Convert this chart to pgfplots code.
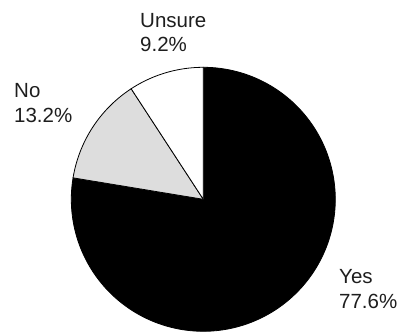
\documentclass[border=0pt]{standalone}
\usepackage{pgfplots}
\pgfplotsset{compat=1.18}
\usepackage{fontspec}
\setmainfont{Liberation Sans}
\definecolor{nogray}{RGB}{221,221,221}
\definecolor{txt}{RGB}{30,30,30}
% shares (percent)
\def\vYes{77.6}
\def\vNo{13.2}
\def\vUnsure{9.2}
\begin{document}
\begin{tikzpicture}
\pgfmathsetmacro{\aA}{90}
\pgfmathsetmacro{\aB}{\aA-3.6*\vYes}
\pgfmathsetmacro{\aC}{\aB-3.6*\vNo}
\pgfmathsetmacro{\aD}{\aC-3.6*\vUnsure}
\begin{axis}[
  scale only axis, width=400pt, height=333pt,
  xmin=0, xmax=400, ymin=0, ymax=333,
  hide axis, clip=false,
]
\path (axis cs:0,0) rectangle (axis cs:400,333);
\addplot[fill=black, draw=black, line width=0.8pt, domain=\aB:\aA, samples=200, variable=\t]
  ({203.3+132*cos(t)},{133.7+132*sin(t)}) -- (axis cs:203.3,133.7) -- cycle;
\addplot[fill=nogray, draw=black, line width=0.8pt, domain=\aC:\aB, samples=60, variable=\t]
  ({203.3+132*cos(t)},{133.7+132*sin(t)}) -- (axis cs:203.3,133.7) -- cycle;
\addplot[fill=white, draw=black, line width=0.8pt, domain=\aD:\aC, samples=60, variable=\t]
  ({203.3+132*cos(t)},{133.7+132*sin(t)}) -- (axis cs:203.3,133.7) -- cycle;
\begin{scope}[every node/.style={anchor=base west, inner sep=0pt, text=txt, font=\fontsize{20.5}{24}\selectfont}]
\node at (axis cs:140,305.5) {Unsure};
\node at (axis cs:140,281.3) {\vUnsure\%};
\node at (axis cs:14,235.3) {No};
\node at (axis cs:14,210.3) {\vNo\%};
\node at (axis cs:339,49.5) {Yes};
\node at (axis cs:339,25) {\vYes\%};
\end{scope}
\end{axis}
\end{tikzpicture}
\end{document}
